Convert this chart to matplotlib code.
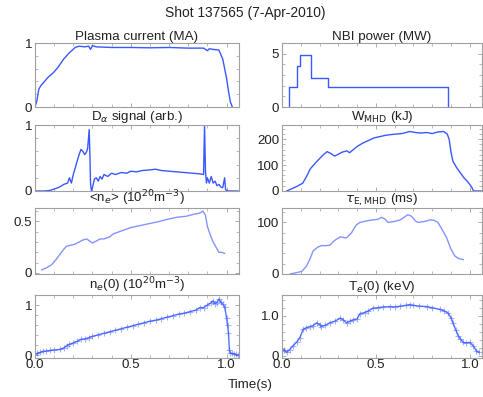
import matplotlib
matplotlib.use("Agg")
import matplotlib.pyplot as plt
from matplotlib.ticker import MultipleLocator, FixedLocator

plt.rcParams['font.family'] = ['Liberation Sans', 'DejaVu Sans']

# ---------------- data ----------------
ip_t = [0, 0.01, 0.02, 0.03, 0.05, 0.07, 0.09, 0.10, 0.12, 0.15, 0.18, 0.21, 0.23, 0.26, 0.28, 0.29,
        0.30, 0.32, 0.4, 0.5, 0.6, 0.7, 0.8, 0.88, 0.90, 0.91, 0.93, 0.96, 0.98, 0.99, 1.0, 1.01, 1.02, 1.03]
ip_v = [0, 0.1, 0.28, 0.33, 0.4, 0.47, 0.52, 0.55, 0.62, 0.75, 0.85, 0.93, 0.95, 0.94, 0.95, 0.90,
        0.96, 0.94, 0.93, 0.93, 0.925, 0.93, 0.92, 0.92, 0.88, 0.91, 0.9, 0.89, 0.75, 0.6, 0.45, 0.25, 0.08, 0.0]

nbi_t = [0.037, 0.037, 0.08, 0.096, 0.154, 0.245, 0.883, 0.883]
nbi_v = [0.0, 1.9, 3.8, 4.9, 2.75, 1.9, 1.9, 0.0]

da_t = [0, 0.05, 0.08, 0.10, 0.12, 0.14, 0.15, 0.17, 0.18, 0.19, 0.20, 0.21, 0.22, 0.23, 0.24, 0.25,
        0.26, 0.27, 0.275, 0.283, 0.287, 0.29, 0.295, 0.30, 0.31, 0.32, 0.33, 0.34, 0.35, 0.36, 0.38,
        0.40, 0.42, 0.45, 0.48, 0.50, 0.53, 0.56, 0.6, 0.63, 0.66, 0.7, 0.74, 0.78, 0.82, 0.86, 0.88,
        0.885, 0.89, 0.895, 0.90, 0.91, 0.92, 0.93, 0.94, 0.95, 0.96, 0.97, 0.98, 0.99, 0.995, 1.0,
        1.01, 1.02, 1.06]
da_v = [0, 0, 0.01, 0.03, 0.05, 0.08, 0.1, 0.12, 0.2, 0.12, 0.25, 0.35, 0.45, 0.55, 0.63, 0.6,
        0.55, 0.6, 0.65, 0.93, 0.5, 0.1, 0.0, 0.05, 0.18, 0.2, 0.15, 0.22, 0.18, 0.25, 0.22,
        0.27, 0.25, 0.28, 0.27, 0.3, 0.29, 0.31, 0.32, 0.33, 0.31, 0.3, 0.29, 0.28, 0.27, 0.26, 0.25,
        1.0, 0.3, 0.12, 0.2, 0.12, 0.22, 0.12, 0.15, 0.08, 0.1, 0.06, 0.05, 0.2, 0.02, 0.01,
        0, 0, 0]

w_t = [0.025, 0.05, 0.08, 0.11, 0.13, 0.15, 0.175, 0.2, 0.22, 0.24, 0.26, 0.28, 0.30, 0.32, 0.345,
       0.36, 0.38, 0.40, 0.43, 0.46, 0.49, 0.52, 0.55, 0.58, 0.61, 0.64, 0.68, 0.71, 0.74, 0.77, 0.80,
       0.83, 0.86, 0.88, 0.89, 0.90, 0.91, 0.93, 0.95, 0.97, 0.99, 1.01, 1.02, 1.06]
w_v = [0, 8, 18, 30, 55, 85, 106, 125, 140, 152, 145, 135, 142, 150, 155,
       148, 160, 172, 185, 195, 205, 210, 215, 218, 220, 222, 230, 226, 224, 226, 222,
       228, 230, 220, 200, 150, 115, 90, 70, 50, 35, 15, 0, 0]

ne_t = [0.035, 0.06, 0.087, 0.11, 0.13, 0.15, 0.165, 0.19, 0.21, 0.23, 0.25, 0.27, 0.285, 0.3,
        0.32, 0.34, 0.36, 0.39, 0.41, 0.44, 0.47, 0.5, 0.55, 0.6, 0.65, 0.69, 0.74, 0.79, 0.83, 0.86,
        0.877, 0.89, 0.9, 0.915, 0.93, 0.945, 0.96, 0.975, 0.99]
ne_v = [0.03, 0.05, 0.08, 0.13, 0.18, 0.23, 0.26, 0.27, 0.28, 0.3, 0.32, 0.33, 0.31, 0.29,
        0.31, 0.33, 0.33, 0.35, 0.38, 0.4, 0.42, 0.44, 0.46, 0.48, 0.5, 0.52, 0.54, 0.55, 0.57, 0.58,
        0.6, 0.56, 0.45, 0.37, 0.3, 0.25, 0.2, 0.2, 0.19]

tau_t = [0.043, 0.07, 0.105, 0.13, 0.15, 0.166, 0.19, 0.21, 0.235, 0.255, 0.28, 0.31, 0.344, 0.37,
         0.395, 0.415, 0.45, 0.485, 0.51, 0.53, 0.55, 0.565, 0.6, 0.63, 0.65, 0.67, 0.69, 0.71, 0.725,
         0.76, 0.79, 0.81, 0.83, 0.85, 0.877, 0.9, 0.92, 0.94, 0.965]
tau_v = [0, 2, 5, 15, 30, 45, 52, 55, 55, 56, 65, 72, 70, 80,
         95, 100, 103, 105, 106, 110, 106, 100, 102, 105, 110, 115, 112, 103, 100,
         102, 105, 104, 100, 88, 70, 48, 35, 30, 28]

n0_t = [0.0, 0.01, 0.026, 0.04, 0.06, 0.08, 0.10, 0.13, 0.15, 0.165, 0.18, 0.20, 0.22, 0.24, 0.26,
        0.28, 0.30, 0.33, 0.36, 0.39, 0.42, 0.45, 0.48, 0.51, 0.54, 0.57, 0.60, 0.63, 0.66, 0.69,
        0.72, 0.75, 0.78, 0.81, 0.84, 0.86, 0.88, 0.90, 0.92, 0.93, 0.94, 0.95, 0.96, 0.97, 0.98,
        0.99, 1.0, 1.005, 1.01, 1.015, 1.02, 1.03, 1.04, 1.05, 1.06]
n0_v = [0.02, 0.04, 0.06, 0.08, 0.09, 0.1, 0.11, 0.12, 0.15, 0.19, 0.22, 0.25, 0.28, 0.32, 0.33,
        0.35, 0.38, 0.41, 0.44, 0.47, 0.5, 0.53, 0.56, 0.59, 0.62, 0.65, 0.68, 0.7, 0.73, 0.76,
        0.79, 0.82, 0.84, 0.87, 0.9, 0.95, 0.95, 1.0, 1.05, 1.08, 1.03, 1.05, 1.12, 1.06, 1.02,
        0.97, 0.75, 0.6, 0.45, 0.1, 0.05, 0.04, 0.03, 0.02, 0.0]

te_t = [0.0, 0.012, 0.025, 0.04, 0.06, 0.08, 0.095, 0.113, 0.13, 0.149, 0.165, 0.184, 0.2, 0.21,
        0.23, 0.255, 0.28, 0.31, 0.325, 0.344, 0.36, 0.38, 0.40, 0.415, 0.44, 0.46, 0.485, 0.51,
        0.54, 0.575, 0.6, 0.63, 0.66, 0.68, 0.7, 0.73, 0.77, 0.8, 0.84, 0.865, 0.885, 0.9, 0.91,
        0.925, 0.938, 0.95, 0.965, 0.98, 1.0, 1.018, 1.035, 1.05]
te_v = [0.11, 0.15, 0.08, 0.15, 0.25, 0.35, 0.45, 0.66, 0.7, 0.73, 0.75, 0.82, 0.78, 0.73,
        0.76, 0.82, 0.86, 0.94, 0.9, 0.82, 0.86, 0.9, 0.92, 1.05, 1.08, 1.12, 1.19, 1.2,
        1.22, 1.23, 1.22, 1.24, 1.26, 1.28, 1.26, 1.24, 1.23, 1.2, 1.16, 1.12, 1.06, 0.95, 0.82,
        0.65, 0.5, 0.42, 0.33, 0.32, 0.33, 0.25, 0.12, 0.08]

# ---------------- figure ----------------
W, H = 483, 397
fig = plt.figure(figsize=(W / 100, H / 100), dpi=100)

rows = [(43, 107), (125, 191), (208, 274), (295, 358)]
cols = [(35, 239), (282, 482)]

def make_ax(col, row):
    x0, x1 = cols[col]
    y0, y1 = rows[row]
    return fig.add_axes([x0 / W, 1 - y1 / H, (x1 - x0) / W, (y1 - y0) / H])

blue = '#3a58ff'
light = '#8494ff'
spine_c = '#a0a0a0'
txt_c = '#222222'
fs = 9.6

panels = [
    (0, 0, "Plasma current (MA)", ip_t, ip_v, blue, (0, 1.0), [0, 1], ['0', '1'], None),
    (0, 1, r"D$_\alpha$ signal (arb.)", da_t, da_v, blue, (0, 1.0), [0, 1], ['0', '1'], None),
    (0, 2, r"<n$_e$> (10$^{20}$m$^{-3}$)", ne_t, ne_v, light, (-0.01, 0.63), [0, 0.5], ['0', '0.5'], None),
    (0, 3, r"n$_e$(0) (10$^{20}$m$^{-3}$)", n0_t, n0_v, blue, (-0.05, 1.2), [0, 1], ['0', '1'], '+'),
    (1, 0, "NBI power (MW)", nbi_t, nbi_v, blue, (0, 6.0), [0, 5], ['0', '5'], 'step'),
    (1, 1, r"W$_{\rm MHD}$ (kJ)", w_t, w_v, blue, (0, 255), [0, 100, 200], ['0', '100', '200'], None),
    (1, 2, r"$\tau_{\rm E,MHD}$ (ms)", tau_t, tau_v, light, (0, 128), [0, 100], ['0', '100'], None),
    (1, 3, r"T$_e$(0) (keV)", te_t, te_v, blue, (-0.06, 1.52), [0, 1.0], ['0', '1.0'], '+'),
]

for col, row, title, tx, ty, c, ylim, yt, ytl, mk in panels:
    ax = make_ax(col, row)
    if mk == 'step':
        ax.plot(tx, ty, color=c, lw=1.0, drawstyle='steps-post')
    elif mk:
        ax.plot(tx, ty, color=c, lw=1.0, alpha=0.85)
        ax.plot(tx, ty, ls='none', marker=mk, ms=4, mew=0.8, color=c, alpha=0.45)
    else:
        ax.plot(tx, ty, color=c, lw=1.0)
    ax.set_xlim(0, 1.065)
    ax.set_ylim(*ylim)
    ax.xaxis.set_major_locator(FixedLocator([0, 0.5, 1.0]))
    ax.xaxis.set_minor_locator(MultipleLocator(0.1))
    ax.yaxis.set_major_locator(FixedLocator(yt))
    step = yt[1] - yt[0]
    ax.yaxis.set_minor_locator(MultipleLocator(step / 5))
    ax.set_yticklabels(ytl)
    if row == 3:
        ax.set_xticklabels(['0.0', '0.5', '1.0'])
    else:
        ax.set_xticklabels([])
    ax.tick_params(which='both', direction='in', top=True, right=True,
                   color=spine_c, labelsize=fs, labelcolor=txt_c, pad=2)
    ax.tick_params(which='major', length=3, width=0.6)
    ax.tick_params(which='minor', length=2, width=0.5)
    ax.tick_params(axis='x', pad=1)
    for s in ax.spines.values():
        s.set_color(spine_c)
        s.set_linewidth(0.8)
    ax.set_title(title, fontsize=fs, color=txt_c, pad=2)

fig.text(245 / W, 1 - 13 / H, "Shot 137565 (7-Apr-2010)", ha='center', va='center',
         fontsize=fs + 0.3, color=txt_c)
fig.text(250 / W, 1 - 385 / H, "Time(s)", ha='center', va='center', fontsize=fs, color=txt_c)

fig.savefig("out.png", dpi=100)
